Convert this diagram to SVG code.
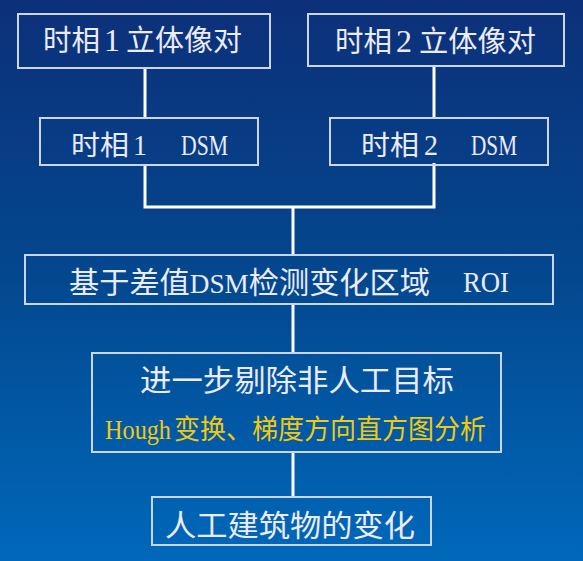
<svg xmlns="http://www.w3.org/2000/svg" width="583" height="561" viewBox="0 0 583 561">
<defs>
<linearGradient id="bg" x1="0" y1="0" x2="0" y2="1">
<stop offset="0" stop-color="#0c3079"/>
<stop offset="0.5" stop-color="#03488f"/>
<stop offset="1" stop-color="#0068ba"/>
</linearGradient>
<style>
.box{fill:none;stroke:#cdd5ec;stroke-width:2}
.t{font-family:"Liberation Serif","Noto Sans CJK SC",serif;fill:#ecebfb}
.y{font-family:"Liberation Serif","Noto Sans CJK SC",serif;fill:#f2c90c}
.c{fill:none;stroke:#ffffff;stroke-width:3}
</style>
</defs>
<rect x="0" y="0" width="583" height="561" fill="url(#bg)"/>
<g id="connectors">
<line class="c" x1="145" y1="68" x2="145" y2="118"/>
<line class="c" x1="434" y1="66" x2="434" y2="118"/>
<polyline class="c" points="145,165 145,207 434,207 434,163"/>
<line class="c" x1="293" y1="207" x2="293" y2="254"/>
<line class="c" x1="293" y1="304" x2="293" y2="353"/>
<line class="c" x1="293" y1="452" x2="293" y2="497"/>
</g>
<g id="n1">
<rect class="box" x="18" y="14" width="252" height="54"/>
<text class="t" x="43" y="51" font-size="29" textLength="57" lengthAdjust="spacingAndGlyphs">时相</text>
<text class="t" x="104" y="51" font-size="31" textLength="16" lengthAdjust="spacingAndGlyphs">1</text>
<text class="t" x="126" y="51" font-size="29" textLength="116" lengthAdjust="spacingAndGlyphs">立体像对</text>
</g>
<g id="n2">
<rect class="box" x="308" y="14" width="256" height="52"/>
<text class="t" x="335" y="52" font-size="29" textLength="57" lengthAdjust="spacingAndGlyphs">时相</text>
<text class="t" x="396" y="52" font-size="31" textLength="16" lengthAdjust="spacingAndGlyphs">2</text>
<text class="t" x="419" y="52" font-size="29" textLength="117" lengthAdjust="spacingAndGlyphs">立体像对</text>
</g>
<g id="n3">
<rect class="box" x="40" y="118" width="218" height="47"/>
<text class="t" x="71" y="155" font-size="27" textLength="58" lengthAdjust="spacingAndGlyphs">时相</text>
<text class="t" x="133" y="155" font-size="30" textLength="14" lengthAdjust="spacingAndGlyphs">1</text>
<text class="t" x="181" y="155" font-size="30" textLength="47" lengthAdjust="spacingAndGlyphs">DSM</text>
</g>
<g id="n4">
<rect class="box" x="330" y="118" width="218" height="47"/>
<text class="t" x="361" y="155" font-size="27" textLength="58" lengthAdjust="spacingAndGlyphs">时相</text>
<text class="t" x="424" y="155" font-size="30" textLength="14" lengthAdjust="spacingAndGlyphs">2</text>
<text class="t" x="471" y="155" font-size="30" textLength="46" lengthAdjust="spacingAndGlyphs">DSM</text>
</g>
<g id="n5">
<rect class="box" x="25" y="255" width="528" height="49"/>
<text class="t" x="69" y="293" font-size="30" textLength="361" lengthAdjust="spacingAndGlyphs">基于差值<tspan font-size="27">DSM</tspan>检测变化区域</text>
<text class="t" x="463" y="292" font-size="30" textLength="46" lengthAdjust="spacingAndGlyphs">ROI</text>
</g>
<g id="n6">
<rect class="box" x="92" y="353" width="409" height="99"/>
<text class="t" x="140" y="391" font-size="30" textLength="314" lengthAdjust="spacingAndGlyphs">进一步剔除非人工目标</text>
<text class="y" x="105" y="439" font-size="28" textLength="66" lengthAdjust="spacingAndGlyphs">Hough</text>
<text class="y" x="174" y="439" font-size="27" textLength="312" lengthAdjust="spacingAndGlyphs">变换、梯度方向直方图分析</text>
</g>
<g id="n7">
<rect class="box" x="152" y="497" width="279" height="48"/>
<text class="t" x="165" y="536" font-size="30" textLength="250" lengthAdjust="spacingAndGlyphs">人工建筑物的变化</text>
</g>
</svg>
